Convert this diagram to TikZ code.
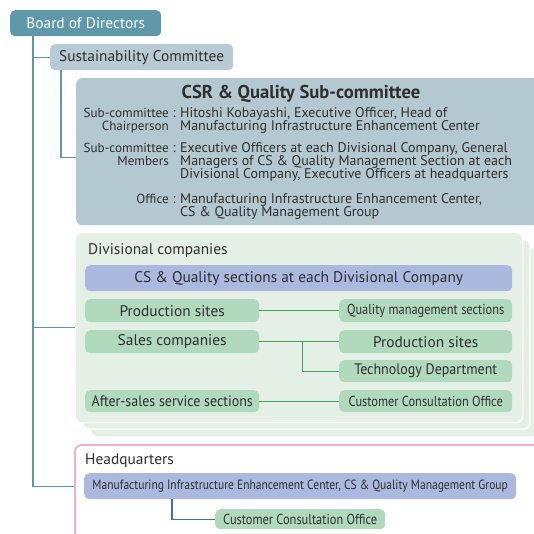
\documentclass[tikz,border=0pt]{standalone}
\usepackage{fontspec}
\setmainfont{PT Sans}
\newfontfamily\cond[FakeStretch=0.86]{PT Sans}
\newfontfamily\semicond[FakeStretch=0.92]{PT Sans}
\usetikzlibrary{calc}
\definecolor{txt}{HTML}{2E2E2E}
\definecolor{bodc}{HTML}{5F98A8}
\definecolor{tline}{HTML}{5A9AAA}
\definecolor{scc}{HTML}{B8CBD4}
\definecolor{csrc}{HTML}{B4C8D1}
\definecolor{gbg}{HTML}{E4F0E6}
\definecolor{bluec}{HTML}{AAB9DD}
\definecolor{greenc}{HTML}{B1D9BD}
\definecolor{gline}{HTML}{43A15E}
\definecolor{pinkc}{HTML}{EFB1CA}
\definecolor{bline}{HTML}{3C6DB5}
\begin{document}
\begin{tikzpicture}[x=1pt,y=-1pt,
  box/.style={rectangle, rounded corners=5pt, inner sep=0pt, anchor=north west, text=txt},
  gbox/.style={box, fill=greenc},
  bbox/.style={box, fill=bluec},
  big/.style={font=\fontsize{15.4}{17}\selectfont},
  semi/.style={font=\semicond\fontsize{15.2}{17}\selectfont},
  sm/.style={font=\cond\fontsize{14.4}{16}\selectfont},
  tl/.style={draw=tline, line width=1.1pt},
  gl/.style={draw=gline, line width=1.1pt},
  bl/.style={draw=bline, line width=1.1pt},
  lbl/.style={inner sep=0pt, text=txt, font=\fontsize{15.4}{17}\selectfont}]
\useasboundingbox (0,0) rectangle (534,533);
\clip (0,0) rectangle (534,533);
\fill[white] (0,0) rectangle (534,533);

% stacked green backgrounds
\draw[fill=gbg, draw=white, line width=1.2pt, rounded corners=6pt] (91,248) rectangle (538,437);
\draw[fill=gbg, draw=white, line width=1.2pt, rounded corners=6pt] (83,240) rectangle (530,429);
\node[box, fill=gbg, draw=white, line width=1.2pt, rounded corners=6pt, minimum width=447pt, minimum height=190pt] (div) at (75,232) {};
\node[lbl, anchor=base west] (divl) at (88,254) {Divisional companies};

% headquarters frame
\node[box, draw=pinkc, line width=1.8pt, rounded corners=7pt, minimum width=500pt, minimum height=120pt] (hq) at (74,444) {};
\node[lbl, anchor=base west] (hql) at (85,464) {Headquarters};

% top boxes
\node[box, fill=bodc, text=white, big, minimum width=151pt, minimum height=26pt] (bod) at (10,10) {Board of Directors};
\node[box, fill=scc, big, minimum width=183pt, minimum height=26pt] (sc) at (50,44) {Sustainability Committee};
\node[box, fill=csrc, minimum width=470pt, minimum height=147pt, rounded corners=6pt] (csr) at (76,78) {};

\node[inner sep=0pt, text=txt, font=\bfseries\fontsize{18.6}{20}\selectfont, anchor=base] (csrt) at (301,98) {CSR \& Quality Sub-committee};
\begin{scope}[every node/.style={inner sep=0pt, text=txt, font=\fontsize{14}{13.4}\selectfont}]
\node[anchor=base east, align=right, font=\fontsize{13.1}{13.4}\selectfont] (l1) at (169,130.5) {Sub-committee\\Chairperson};
\node[anchor=base west] (c1) at (172.5,117) {:};
\node[anchor=base west, align=left] (t1) at (180,130.5) {Hitoshi Kobayashi, Executive Officer, Head of\\Manufacturing Infrastructure Enhancement Center};
\node[anchor=base east, align=right, font=\fontsize{13.1}{13.4}\selectfont] (l2) at (169,165.5) {Sub-committee\\Members};
\node[anchor=base west] (c2) at (172.5,152) {:};
\node[anchor=base west, align=left] (t2) at (180,178.8) {Executive Officers at each Divisional Company, General\\Managers of CS \& Quality Management Section at each\\Divisional Company, Executive Officers at headquarters};
\node[anchor=base east, font=\fontsize{13.1}{13.4}\selectfont] (l3) at (169,203) {Office};
\node[anchor=base west] (c3) at (172.5,203) {:};
\node[anchor=base west, align=left] (t3) at (180,216.4) {Manufacturing Infrastructure Enhancement Center,\\CS \& Quality Management Group};
\end{scope}

% divisional content
\node[bbox, big, minimum width=427pt, minimum height=26pt] (csq) at (85,265) {CS \& Quality sections at each Divisional Company};
\node[gbox, big, minimum width=174pt, minimum height=23pt] (ps) at (85,299) {Production sites};
\node[gbox, sm, minimum width=173pt, minimum height=23pt] (qm) at (339,299) {Quality management sections};
\node[gbox, big, minimum width=174pt, minimum height=23pt] (sales) at (85,330) {Sales companies};
\node[gbox, big, minimum width=173pt, minimum height=23pt] (ps2) at (339,330) {Production sites};
\node[gbox, semi, minimum width=173pt, minimum height=22pt] (tech) at (339,360) {Technology Department};
\node[gbox, semi, minimum width=174pt, minimum height=22pt] (after) at (85,390) {After-sales service sections};
\node[gbox, sm, minimum width=173pt, minimum height=22pt] (cco) at (339,390) {Customer Consultation Office};

% hq content
\node[bbox, font=\cond\fontsize{13.4}{15}\selectfont, minimum width=432pt, minimum height=26pt] (hqb) at (84,473) {Manufacturing Infrastructure Enhancement Center, CS \& Quality Management Group};
\node[gbox, sm, minimum width=170pt, minimum height=20pt] (hcco) at (215,509) {Customer Consultation Office};

% connectors
\coordinate (trunk) at ([xshift=23pt]bod.south west);
\draw[tl] (trunk) |- (sc.west);
\draw[tl] (trunk) |- (hqb.west -| hq.west);
\draw[tl] (trunk |- div.west) -- (div.west);
\draw[tl] ([xshift=11pt]sc.south west) |- ([yshift=-5.5pt]csr.west);

\draw[gl] (ps.east) -- (qm.west);
\draw[gl] (sales.east) -- (ps2.west);
\coordinate (br) at ([xshift=43pt]sales.east);
\draw[gl] (br) |- (tech.west);
\draw[gl] (after.east) -- (cco.west);
\draw[bl] ([xshift=88pt]hqb.south west) |- (hcco.west);
\end{tikzpicture}
\end{document}
